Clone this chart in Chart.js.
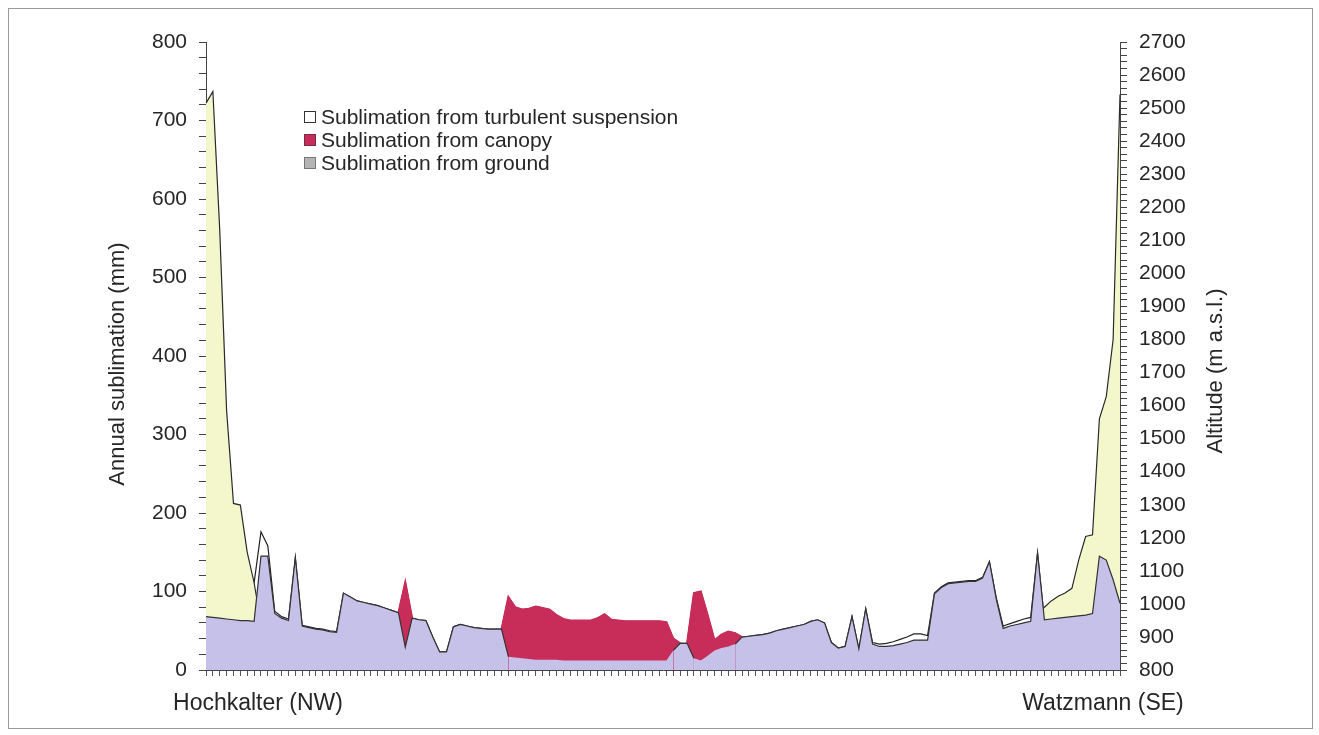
<!DOCTYPE html>
<html><head><meta charset="utf-8">
<script src="https://cdn.jsdelivr.net/npm/chart.js@4.4.1/dist/chart.umd.min.js"></script>
<style>
html,body{margin:0;padding:0;background:#fff;}
#wrap{position:relative;width:1319px;height:735px;overflow:hidden;}
#frame{position:absolute;left:8px;top:8px;width:1303px;height:719px;border:1px solid #9a9a9a;pointer-events:none;}
canvas{position:absolute;left:0;top:0;}
</style></head><body>
<div id="wrap"><canvas id="c" width="1319" height="735"></canvas><div id="frame"></div></div>
<script>
// Sublimation from ground (mm) along the profile
const ground = [68,67,66,65,64,63,63,62,145,145,72,66,63,143,56,54,52,51,49,48,
98,93,88,86,84,82,79,76,73,29,66,64,63,42,23,23,55,58,56,54,
53,52,52,52,17,16,15,14,13,13,13,13,12,12,12,12,12,12,12,12,
12,12,12,12,12,12,12,12,25,34,34,15,12,18,25,28,30,33,42,43,
44,45,47,50,52,54,56,58,62,64,60,35,28,30,68,27,78,33,30,30,
31,33,35,38,38,38,97,105,110,111,112,113,113,117,138,90,53,56,58,60,
62,149,64,65,66,67,68,69,70,72,145,140,115,85];
// Sublimation from canopy (mm)
const canopy = [0,0,0,0,0,0,0,0,0,0,0,0,0,0,0,0,0,0,0,0,
0,0,0,0,0,0,0,0,0,83,0,0,0,0,0,0,0,0,0,0,
0,0,0,0,76,64,62,64,68,66,64,57,53,51,51,51,51,54,59,52,
51,50,50,50,50,50,50,49,15,0,0,83,88,52,13,17,19,14,0,0,
0,0,0,0,0,0,0,0,0,0,0,0,0,0,0,0,0,0,0,0,
0,0,0,0,0,0,0,0,0,0,0,0,0,0,0,0,0,0,0,0,
0,0,0,0,0,0,0,0,0,0,0,0,0,0];
// Sublimation from turbulent suspension (mm)
const turbulent = [0,0,0,0,0,0,0,49,31,13,3,2,2,0,1,1,1,1,1,1,
0,0,0,0,0,0,0,0,0,0,0,0,0,0,0,0,0,0,0,0,
0,0,0,0,0,0,0,0,0,0,0,0,0,0,0,0,0,0,0,0,
0,0,0,0,0,0,0,0,0,0,0,0,0,0,0,0,0,0,0,0,
0,0,0,0,0,0,0,0,0,0,0,0,0,0,0,0,0,2,3,4,
5,6,7,8,8,6,1,1,1,1,1,1,1,1,0,2,3,3,4,5,
5,0,0,0,0,0,0,0,0,0,0,0,0,0];
// Altitude (m a.s.l.) where visible above the sublimation areas
const altitude = [2515,2550,2130,1584,1304,1299,1156,1064,940,null,null,null,null,null,null,null,null,null,null,null,
null,null,null,null,null,null,null,null,null,null,null,null,null,null,null,null,null,null,null,null,
null,null,null,null,null,null,null,null,null,null,null,null,null,null,null,null,null,null,null,null,
null,null,null,null,null,null,null,null,null,null,null,null,null,null,null,null,null,null,null,null,
null,null,null,null,null,null,null,null,null,null,null,null,null,null,null,null,null,null,null,null,
null,null,null,null,null,null,null,null,null,null,null,null,null,null,null,null,null,null,null,null,
null,965,990,1009,1023,1033,1047,1133,1204,1209,1560,1627,1800,2541];
const sublimationTickLabels = [0,100,200,300,400,500,600,700,800];
const altitudeTickLabels = [800,900,1000,1100,1200,1300,1400,1500,1600,1700,1800,1900,2000,2100,2200,2300,2400,2500,2600,2700];
const endLabels = ['Hochkalter (NW)', 'Watzmann (SE)'];
const legendLabels = ['Sublimation from turbulent suspension','Sublimation from canopy','Sublimation from ground'];
const axisTitles = ['Annual sublimation (mm)', 'Altitude (m a.s.l.)'];
const profilePoints = ground.map((_, i) => String(i + 1));

const FONT = '"Liberation Sans", Arial, Helvetica, sans-serif';
const COL_GROUND = '#c6c1e9';
const COL_CANOPY = '#c82d5a';
const COL_ALT = '#f4f7cc';
const TXT = '#262626';

const cumCanopy = ground.map((g, i) => g + canopy[i]);
const cumTurb = cumCanopy.map((v, i) => v + turbulent[i]);

const textPlugin = {
  id: 'texts',
  afterDraw(chart) {
    const ctx = chart.ctx;
    const ca = chart.chartArea;
    const xs = chart.scales.x;
    ctx.save();
    ctx.fillStyle = TXT;
    ctx.textBaseline = 'middle';
    ctx.textAlign = 'center';
    // end labels
    ctx.font = '23px ' + FONT;
    ctx.fillText(endLabels[0], xs.getPixelForValue(0) + 52, ca.bottom + 34);
    ctx.fillText(endLabels[1], xs.getPixelForValue(profilePoints.length - 1) - 17, ca.bottom + 34);
    // axis titles
    ctx.font = '22px ' + FONT;
    ctx.save();
    ctx.translate(ca.left - 88, (ca.top + ca.bottom) / 2 + 8);
    ctx.rotate(-Math.PI / 2);
    ctx.fillText(axisTitles[0], 0, 0);
    ctx.restore();
    ctx.save();
    ctx.translate(ca.right + 96, ca.top + 329);
    ctx.rotate(-Math.PI / 2);
    ctx.fillText(axisTitles[1], 0, 0);
    ctx.restore();
    // legend
    ctx.font = '21px ' + FONT;
    const lx = ca.left + 98, ly = ca.top + 75, gap = 23;
    const fills = ['#ffffff', COL_CANOPY, '#b4b4b4'];
    const strokes = ['#333', '#7a2a40', '#777'];
    ctx.textAlign = 'left';
    for (let k = 0; k < legendLabels.length; k++) {
      const y = ly + k * gap;
      ctx.fillStyle = fills[k];
      ctx.fillRect(lx, y - 6, 12, 12);
      ctx.strokeStyle = strokes[k];
      ctx.lineWidth = 1;
      ctx.strokeRect(lx + 0.5, y - 5.5, 11, 11);
      ctx.fillStyle = TXT;
      ctx.fillText(legendLabels[k], lx + 17, y + 1);
    }
    ctx.restore();
  }
};

new Chart(document.getElementById('c'), {
  type: 'line',
  data: {
    labels: profilePoints,
    datasets: [
      { label: legendLabels[0], data: cumTurb, yAxisID: 'y', fill: 'start',
        backgroundColor: '#ffffff', borderColor: '#222', borderWidth: 1.2, order: 4 },
      { label: 'Altitude', data: altitude, yAxisID: 'y2', fill: 'start', spanGaps: false,
        backgroundColor: COL_ALT, borderColor: '#2a2a2a', borderWidth: 1.2, order: 3 },
      { label: legendLabels[1], data: cumCanopy, yAxisID: 'y', fill: 'start',
        backgroundColor: COL_CANOPY, borderColor: COL_CANOPY, borderWidth: 2, order: 2,
        segment: { borderColor: c => (canopy[c.p0DataIndex] > 0 || canopy[c.p1DataIndex] > 0) ? COL_CANOPY : 'rgba(0,0,0,0)' } },
      { label: legendLabels[2], data: ground, yAxisID: 'y', fill: 'start',
        backgroundColor: COL_GROUND, borderColor: '#333', borderWidth: 1.2, order: 1,
        segment: { borderColor: c => (canopy[c.p0DataIndex] > 0 && canopy[c.p1DataIndex] > 0) ? 'rgba(0,0,0,0)' : '#333' } }
    ]
  },
  options: {
    responsive: false,
    animation: false,
    layout: { padding: { left: 106, right: 99, top: 42, bottom: 0 } },
    elements: { point: { radius: 0, hoverRadius: 0 }, line: { tension: 0 } },
    plugins: { legend: { display: false }, tooltip: { enabled: false } },
    scales: {
      x: {
        type: 'category', offset: false,
        grid: { display: true, drawOnChartArea: false, drawTicks: true, tickLength: 6, color: '#555' },
        border: { display: true, color: '#444', width: 1 },
        ticks: { autoSkip: false, maxRotation: 0, callback: () => '', font: { size: 1 } },
        afterFit: s => { s.height = 65; }
      },
      y: {
        position: 'left', min: 0, max: 800,
        grid: { display: true, drawOnChartArea: false, tickLength: 7, color: '#444' },
        border: { display: true, color: '#444', width: 1 },
        ticks: { stepSize: 20, autoSkip: false, padding: 12, color: TXT, font: { family: FONT, size: 21 },
          callback: v => sublimationTickLabels.includes(v) ? String(v) : '' },
        afterFit: s => { s.width = 100; }
      },
      y2: {
        position: 'right', min: 800, max: 2700,
        grid: { display: true, drawOnChartArea: false, tickLength: 7, color: '#444' },
        border: { display: true, color: '#444', width: 1 },
        ticks: { stepSize: 20, autoSkip: false, padding: 12, color: TXT, font: { family: FONT, size: 21 },
          callback: v => altitudeTickLabels.includes(v) ? String(v) : '' },
        afterFit: s => { s.width = 100; }
      }
    }
  },
  plugins: [textPlugin]
});
</script>
</body></html>
